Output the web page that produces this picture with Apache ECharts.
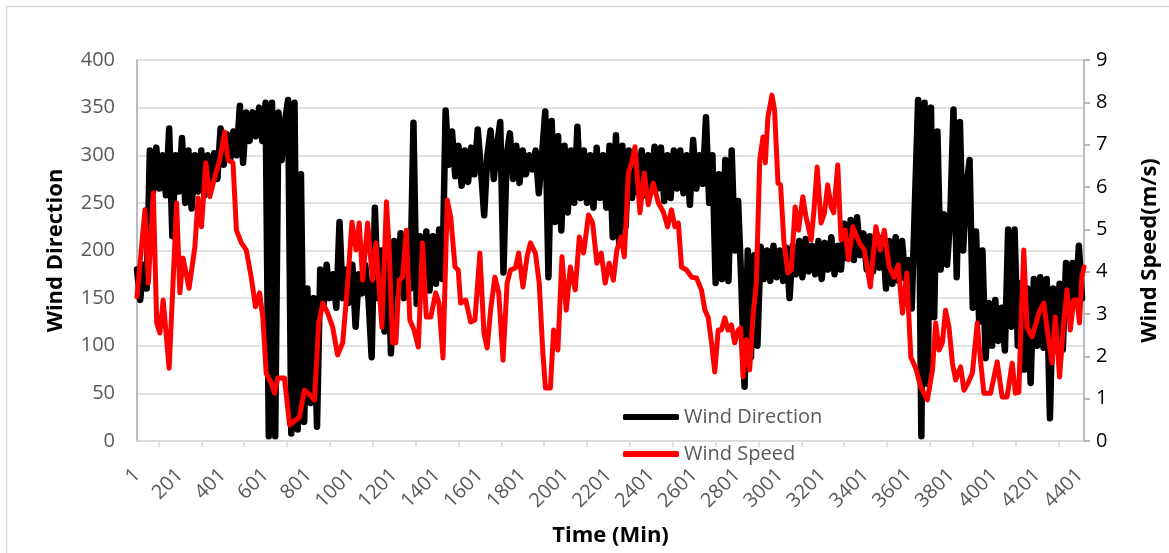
<!DOCTYPE html>
<html>
<head>
<meta charset="utf-8">
<script src="https://cdn.jsdelivr.net/npm/echarts@6/dist/echarts.min.js"></script>
<style>
  html, body { margin: 0; padding: 0; background: #fff; }
  #chart { width: 1169px; height: 553px; }
</style>
</head>
<body>
<div id="chart"></div>
<script>
// wind direction, one reading every DIR_STEP minutes
var DIR_STEP = 15;
var dirValues = [
  180, 148, 185, 160, 305, 262, 308, 265, 300, 258,
  328, 215, 300, 262, 318, 250, 305, 244, 300, 262,
  305, 258, 300, 270, 302, 275, 328, 290, 322, 295,
  325, 300, 352, 292, 345, 315, 345, 320, 350, 315,
  355, 5, 355, 5, 345, 295, 335, 358, 8, 355,
  12, 280, 20, 160, 40, 150, 15, 180, 140, 185,
  150, 175, 140, 230, 150, 180, 145, 185, 120, 175,
  155, 185, 150, 88, 245, 150, 200, 115, 205, 92,
  210, 155, 218, 150, 200, 160, 334, 144, 215, 165,
  220, 158, 215, 165, 222, 170, 347, 290, 325, 278,
  310, 268, 305, 272, 308, 280, 327, 285, 237, 300,
  326, 275, 310, 335, 177, 300, 323, 275, 310, 271,
  305, 280, 300, 285, 305, 260, 300, 346, 172, 336,
  230, 320, 221, 310, 240, 305, 250, 330, 255, 305,
  250, 300, 245, 308, 255, 300, 245, 310, 214, 321,
  207, 310, 225, 305, 255, 300, 260, 305, 258, 300,
  262, 309, 265, 308, 252, 300, 255, 305, 265, 305,
  260, 300, 248, 316, 265, 300, 270, 340, 250, 300,
  166, 280, 170, 295, 168, 305, 200, 252, 166, 57,
  200, 88, 195, 100, 204, 170, 200, 168, 205, 172,
  200, 168, 203, 150, 205, 175, 210, 172, 212, 178,
  205, 175, 210, 170, 208, 180, 214, 175, 205, 180,
  228, 192, 232, 190, 235, 195, 218, 180, 215, 178,
  218, 182, 214, 160, 210, 165, 214, 168, 210, 170,
  190, 139, 250, 358, 5, 355, 60, 350, 130, 325,
  180, 238, 185, 235, 348, 172, 335, 200, 265, 295,
  140, 220, 125, 200, 87, 145, 100, 148, 105, 140,
  95, 222, 120, 222, 100, 166, 75, 160, 61, 170,
  100, 172, 98, 170, 24, 160, 100, 165, 96, 187,
  140, 187, 150, 205, 150
];

// wind speed (m/s) at the minutes where the red line turns
var speedMinutes = [
  0, 37, 53, 76, 92, 107, 122, 150, 185, 200, 215, 243, 270, 285, 301, 321, 340, 363, 386, 409,
  425, 448, 464, 487, 510, 533, 553, 572, 587, 603, 626, 642, 657, 688, 712, 743, 758, 781, 805, 828,
  848, 867, 890, 913, 936, 960, 983, 1003, 1022, 1037, 1053, 1076, 1099, 1115, 1143, 1164, 1177, 1192, 1208, 1223,
  1239, 1257, 1273, 1293, 1313, 1332, 1350, 1371, 1394, 1409, 1428, 1448, 1464, 1484, 1499, 1510, 1534, 1557, 1577, 1600,
  1619, 1634, 1650, 1670, 1688, 1708, 1727, 1743, 1766, 1781, 1801, 1820, 1836, 1859, 1877, 1893, 1906, 1929, 1944, 1964,
  1983, 2003, 2022, 2045, 2064, 2084, 2107, 2126, 2146, 2166, 2185, 2203, 2223, 2239, 2259, 2274, 2293, 2308, 2324, 2347,
  2367, 2386, 2409, 2433, 2456, 2476, 2494, 2510, 2526, 2541, 2564, 2588, 2611, 2634, 2650, 2665, 2681, 2696, 2712, 2727,
  2743, 2758, 2774, 2789, 2805, 2817, 2828, 2843, 2859, 2874, 2890, 2906, 2921, 2932, 2944, 2963, 2975, 2991, 3003, 3019,
  3037, 3053, 3071, 3087, 3107, 3122, 3146, 3158, 3174, 3192, 3208, 3223, 3239, 3251, 3270, 3285, 3304, 3320, 3340, 3371,
  3394, 3422, 3448, 3468, 3487, 3510, 3533, 3552, 3572, 3592, 3611, 3634, 3657, 3688, 3712, 3727, 3743, 3758, 3773, 3789,
  3805, 3820, 3843, 3859, 3878, 3898, 3921, 3936, 3952, 3983, 4014, 4037, 4060, 4084, 4099, 4115, 4126, 4138, 4153, 4177,
  4208, 4231, 4254, 4270, 4285, 4305, 4324, 4340, 4355, 4371, 4386, 4398, 4409, 4419
];
var speedValues = [
  3.41, 5.46, 3.73, 5.86, 2.79, 2.55, 3.33, 1.72, 5.62, 3.5, 4.32, 3.61, 4.58, 5.74, 5.06, 6.57, 5.77, 6.24, 6.64, 7.3,
  6.64, 6.57, 4.98, 4.68, 4.51, 3.87, 3.17, 3.5, 2.93, 1.6, 1.37, 1.13, 1.49, 1.49, 0.38, 0.5, 0.57, 1.2, 1.09, 0.97,
  2.79, 3.26, 3.02, 2.69, 2.03, 2.32, 3.73, 5.17, 4.51, 5.15, 3.8, 5.15, 3.8, 4.68, 2.69, 5.65, 4.51, 2.32, 2.32, 3.8,
  3.87, 4.98, 2.86, 2.62, 2.22, 4.68, 2.93, 2.93, 3.5, 3.26, 1.96, 5.69, 5.29, 4.11, 4.04, 3.26, 3.33, 2.81, 2.86, 4.44,
  2.55, 2.2, 3.09, 3.87, 3.5, 1.91, 3.73, 4.04, 4.09, 4.44, 3.64, 4.35, 4.68, 4.44, 3.73, 2.15, 1.25, 1.25, 2.62, 2.15,
  4.35, 3.09, 4.11, 3.57, 4.82, 4.44, 5.34, 5.15, 4.2, 4.44, 3.73, 4.2, 3.8, 4.51, 4.82, 4.35, 6.33, 6.57, 6.95, 5.39,
  6.33, 5.58, 6.09, 5.62, 5.41, 5.06, 5.46, 5.06, 5.15, 4.11, 4.04, 3.87, 3.85, 3.57, 3.09, 2.93, 2.32, 1.63, 2.62, 2.62,
  2.91, 2.62, 2.74, 2.32, 2.62, 2.67, 1.51, 2.39, 1.68, 2.93, 3.73, 6.64, 7.18, 6.57, 7.65, 8.17, 7.82, 6.09, 6.05, 4.68,
  3.97, 4.04, 5.53, 4.98, 5.77, 5.29, 4.75, 5.39, 6.47, 5.15, 5.39, 6.05, 5.53, 5.39, 6.52, 4.75, 4.98, 4.28, 5.06, 4.68,
  4.51, 3.64, 5.06, 4.51, 4.98, 4.11, 3.87, 4.16, 3.02, 3.97, 1.98, 1.72, 1.28, 0.97, 1.68, 2.79, 2.15, 2.32, 3.09, 2.69,
  1.84, 1.44, 1.75, 1.2, 1.37, 1.6, 2.79, 1.91, 1.13, 1.13, 1.87, 1.04, 1.04, 1.84, 1.13, 1.15, 2.93, 4.51, 2.69, 2.46,
  3.02, 3.26, 2.39, 1.84, 2.93, 1.51, 2.79, 3.57, 2.62, 3.33, 3.33, 2.79, 3.87, 4.11
];

var X_LAST = 4419;      // last minute index on the axis (labels show minute + 1)
var X_LABEL_EVERY = 200;

(function () {
  'use strict';

  var FONT = '"Open Sans", "Noto Sans", sans-serif';
  var GREY_TEXT = '#595959';
  var GRID_LINE = '#d9d9d9';

  var dirData = dirValues.map(function (v, i) { return [i * DIR_STEP, v]; });
  var speedData = speedMinutes.map(function (m, i) { return [m, speedValues[i]]; });

  var chart = echarts.init(document.getElementById('chart'), null, { renderer: 'canvas' });
  chart.setOption({
    animation: false,
    textStyle: { fontFamily: FONT },
    graphic: [{
      type: 'rect',
      silent: true,
      z: -10,
      shape: { x: 6.5, y: 6.5, width: 1300, height: 700 },
      style: { fill: 'none', stroke: GRID_LINE, lineWidth: 1.5 }
    }],
    grid: { left: 137, right: 82, top: 60, bottom: 112, containLabel: false },
    legend: {
      orient: 'vertical',
      left: 618,
      top: 400,
      icon: 'roundRect',
      itemWidth: 56,
      itemHeight: 6,
      itemGap: 13,
      itemStyle: { borderWidth: 0 },
      textStyle: { fontFamily: FONT, fontSize: 20, color: GREY_TEXT, lineHeight: 24 },
      data: ['Wind Direction', 'Wind Speed']
    },
    xAxis: {
      type: 'value',
      min: 0,
      max: X_LAST,
      interval: X_LABEL_EVERY,
      name: 'Time (Min)',
      nameLocation: 'middle',
      nameGap: 84,
      nameTextStyle: { fontFamily: FONT, fontSize: 22, fontWeight: 'bold', color: '#000' },
      axisLine: { lineStyle: { color: GRID_LINE, width: 1.5 } },
      axisTick: { show: false },
      minorTick: { show: true, splitNumber: 2, length: 6, lineStyle: { color: GRID_LINE, width: 1.5 } },
      splitLine: { show: false },
      axisLabel: {
        rotate: 45,
        margin: 31,
        fontFamily: FONT,
        fontSize: 20,
        color: GREY_TEXT,
        showMaxLabel: false,
        formatter: function (v) { return v % X_LABEL_EVERY === 0 ? String(v + 1) : ''; }
      }
    },
    yAxis: [{
      type: 'value',
      min: 0,
      max: 400,
      interval: 50,
      name: 'Wind Direction',
      nameLocation: 'middle',
      nameRotate: 90,
      nameGap: 70,
      nameTextStyle: { fontFamily: FONT, fontSize: 22, fontWeight: 'bold', color: '#000' },
      axisLine: { show: true, lineStyle: { color: '#a6a6a6', width: 1.5 } },
      axisTick: { show: false },
      axisLabel: { fontFamily: FONT, fontSize: 20, color: GREY_TEXT, margin: 22 },
      splitLine: { show: true, lineStyle: { color: GRID_LINE, width: 1.5 } }
    }, {
      type: 'value',
      position: 'right',
      min: 0,
      max: 9,
      interval: 1,
      name: 'Wind Speed(m/s)',
      nameLocation: 'middle',
      nameRotate: 90,
      nameGap: 55,
      nameTextStyle: { fontFamily: FONT, fontSize: 22, fontWeight: 'bold', color: '#000' },
      axisLine: { show: true, lineStyle: { color: '#a6a6a6', width: 1.5 } },
      axisTick: { show: true, length: 6, lineStyle: { color: '#a6a6a6', width: 1.5 } },
      axisLabel: { fontFamily: FONT, fontSize: 20, color: '#000', margin: 12 },
      splitLine: { show: false }
    }],
    series: [{
      name: 'Wind Direction',
      type: 'line',
      yAxisIndex: 0,
      data: dirData,
      showSymbol: false,
      symbol: 'none',
      color: '#000',
      lineStyle: { color: '#000', width: 6.5, join: 'round', cap: 'round' },
      z: 2
    }, {
      name: 'Wind Speed',
      type: 'line',
      yAxisIndex: 1,
      data: speedData,
      showSymbol: false,
      symbol: 'none',
      color: '#ff0000',
      lineStyle: { color: '#ff0000', width: 5, join: 'round', cap: 'round' },
      z: 3
    }]
  });
})();
</script>
</body>
</html>
